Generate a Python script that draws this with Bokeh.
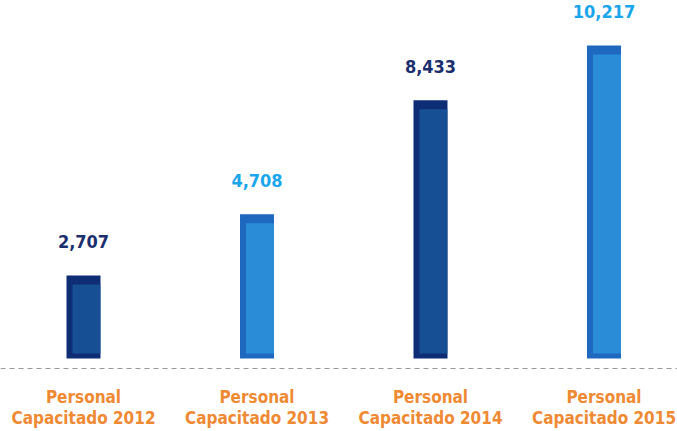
from bokeh.plotting import figure
from bokeh.models import Range1d, ColumnDataSource
from bokeh.core.properties import value
from bokeh.embed import file_html
from bokeh.resources import INLINE

years = ["2012", "2013", "2014", "2015"]
line1 = ["Personal", "Personal", "Personal", "Personal"]
line2 = ["Capacitado 2012", "Capacitado 2013", "Capacitado 2014", "Capacitado 2015"]
counts = [2707, 4708, 8433, 10217]
count_labels = ["2,707", "4,708", "8,433", "10,217"]

NAVY, NAVY_IN = "#0f2d74", "#1a5b9f"
BLUE, BLUE_IN = "#1f68bf", "#2f98df"
outer_cols = [NAVY, BLUE, NAVY, BLUE]
inner_cols = [NAVY_IN, BLUE_IN, NAVY_IN, BLUE_IN]
text_cols = ["#1b2f6e", "#1aa6ea", "#1b2f6e", "#1aa6ea"]
FONT = value("DejaVu Sans Condensed")

W, H = 677, 431
base = 358            # pixel row of zero
px_x = 173.5          # pixels per x unit
upp = 10217 / 313.0   # y units per pixel
x0 = -83 / px_x
y_top = base * upp
y_bot = -(H - base) * upp

xs = list(range(len(years)))
bw = 34 / px_x
inset_l = 6 / px_x
inset_t = 9 * upp
inset_b = 5 * upp

src = ColumnDataSource(dict(
    x=xs, top=counts, lab=count_labels, oc=outer_cols, ic=inner_cols, tc=text_cols,
    l1=line1, l2=line2,
    il=[x - bw / 2 + inset_l for x in xs], ir=[x + bw / 2 for x in xs],
    it=[c - inset_t for c in counts], ib=[inset_b for _ in counts],
    y1=[-38 * upp for _ in xs], y2=[-59 * upp for _ in xs],
))

p = figure(width=W, height=H, output_backend="svg", toolbar_location=None,
           x_range=Range1d(x0, x0 + W / px_x), y_range=Range1d(y_bot, y_top),
           min_border=0, outline_line_color=None)
p.axis.visible = False
p.grid.visible = False

p.vbar(x="x", top="top", bottom=0, width=bw, fill_color="oc", line_color=None, source=src)
p.quad(left="il", right="ir", top="it", bottom="ib", fill_color="ic", fill_alpha=0.75,
       line_color=None, source=src)

# dashed baseline
p.segment(x0=x0, x1=x0 + W / px_x, y0=-10 * upp, y1=-10 * upp,
          line_color="#9a9a9a", line_dash="5 4", line_width=1)

p.text(x="x", y="top", text="lab", text_color="tc", y_offset=-34,
       text_font=FONT, text_font_style="bold",
       text_font_size="18px", text_align="center", text_baseline="middle", source=src)
p.text(x="x", y="y1", text="l1", text_color="#ef8a34",
       text_font=FONT, text_font_style="bold",
       text_font_size="17px", text_align="center", text_baseline="middle", source=src)
p.text(x="x", y="y2", text="l2", text_color="#ef8a34",
       text_font=FONT, text_font_style="bold",
       text_font_size="17px", text_align="center", text_baseline="middle", source=src)

open("out.html", "w").write(file_html(p, INLINE))
